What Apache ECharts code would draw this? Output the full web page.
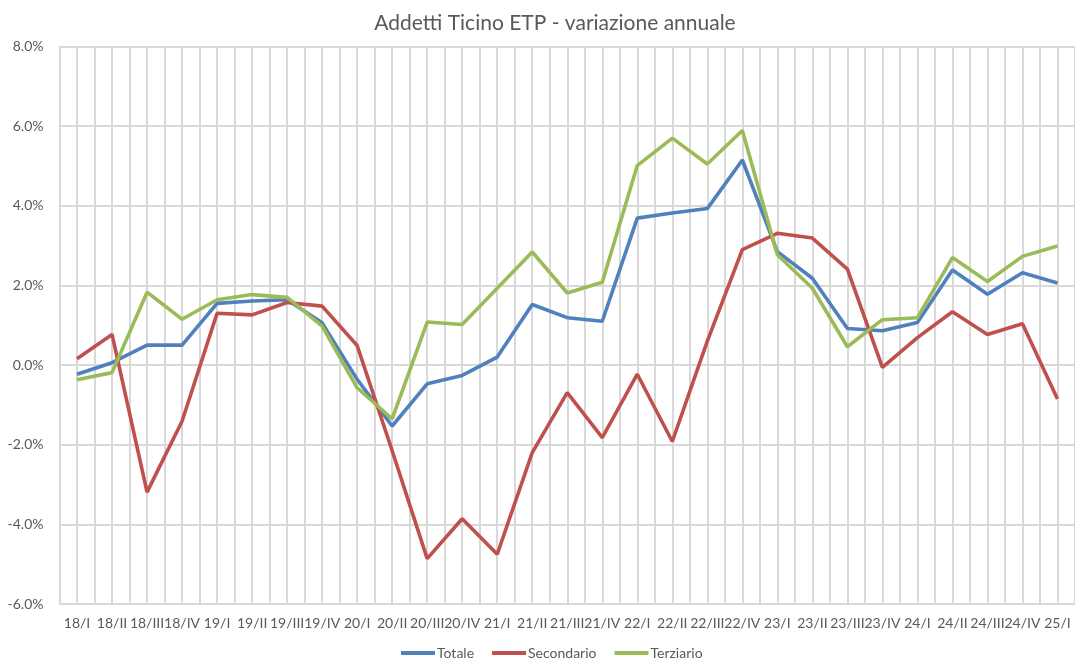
<!DOCTYPE html>
<html>
<head>
<meta charset="utf-8">
<title>Addetti Ticino ETP</title>
<script src="https://cdn.jsdelivr.net/npm/echarts@6/dist/echarts.min.js"></script>
<style>
  html, body { margin: 0; padding: 0; background: #fff; }
  #chart { width: 1075px; height: 661px; }
</style>
</head>
<body>
<div id="chart"></div>
<script>
  // trimestri
  var categories = ["18/I", "18/II", "18/III", "18/IV", "19/I", "19/II", "19/III", "19/IV",
    "20/I", "20/II", "20/III", "20/IV", "21/I", "21/II", "21/III", "21/IV",
    "22/I", "22/II", "22/III", "22/IV", "23/I", "23/II", "23/III", "23/IV",
    "24/I", "24/II", "24/III", "24/IV", "25/I"];

  // variazione annuale in %
  var totale = [-0.23, 0.06, 0.50, 0.50, 1.55, 1.61, 1.64, 1.06, -0.36, -1.53, -0.47, -0.26, 0.20, 1.52,
    1.19, 1.10, 3.69, 3.82, 3.93, 5.15, 2.85, 2.18, 0.92, 0.86, 1.07, 2.39, 1.78, 2.32, 2.06];
  var secondario = [0.16, 0.77, -3.19, -1.41, 1.30, 1.26, 1.57, 1.48, 0.49, -2.15, -4.86, -3.86, -4.75, -2.20,
    -0.69, -1.82, -0.23, -1.92, 0.60, 2.90, 3.31, 3.19, 2.41, -0.06, 0.69, 1.34, 0.77, 1.04, -0.85];
  var terziario = [-0.37, -0.19, 1.83, 1.15, 1.64, 1.77, 1.70, 0.98, -0.57, -1.35, 1.08, 1.02, 1.93, 2.84,
    1.81, 2.08, 5.01, 5.70, 5.05, 5.89, 2.77, 1.93, 0.46, 1.14, 1.19, 2.70, 2.10, 2.73, 2.99];

  var font = "Lato";
  var textColor = "#595959";
  var gridColor = "#d9d9d9";

  var chart = echarts.init(document.getElementById("chart"), null, {renderer: "canvas"});

  function line(name, data, color) {
    return {
      name: name,
      type: "line",
      data: data,
      showSymbol: false,
      symbol: "none",
      lineStyle: {color: color, width: 3.6},
      itemStyle: {color: color},
      animation: false
    };
  }

  chart.setOption({
    backgroundColor: "#fff",
    title: {
      text: "Addetti Ticino ETP - variazione annuale",
      left: 550,
      top: 8,
      textAlign: "center",
      textStyle: {fontFamily: font, fontSize: 21, fontWeight: "normal", color: textColor}
    },
    legend: {
      left: 401,
      top: 645,
      itemWidth: 34,
      itemHeight: 4,
      itemGap: 18,
      icon: "rect",
      padding: 0,
      textStyle: {fontFamily: font, fontSize: 14, lineHeight: 16, color: textColor, padding: [0, 0, 0, -3]},
      data: ["Totale", "Secondario", "Terziario"]
    },
    grid: {
      left: 59.5,
      top: 46.5,
      width: 1018,
      height: 557.5
    },
    xAxis: [
      {
        type: "category",
        data: categories,
        boundaryGap: true,
        axisLine: {show: true, lineStyle: {color: gridColor, width: 2}},
        axisTick: {show: false},
        splitLine: {show: false},
        axisLabel: {
          interval: 0,
          margin: 12,
          fontFamily: font,
          fontSize: 14,
          color: textColor
        }
      },
      {
        // mezze divisioni per le linee verticali
        type: "value",
        min: 0,
        max: 58,
        interval: 1,
        position: "bottom",
        axisLine: {show: false},
        axisTick: {show: false},
        axisLabel: {show: false},
        splitLine: {show: true, lineStyle: {color: gridColor, width: 2}}
      }
    ],
    yAxis: {
      type: "value",
      min: -6,
      max: 8,
      interval: 2,
      axisLine: {show: false},
      axisTick: {show: false},
      axisLabel: {
        margin: 16,
        fontFamily: font,
        fontSize: 14,
        color: textColor,
        formatter: function (v) { return v.toFixed(1) + "%"; }
      },
      splitLine: {show: true, lineStyle: {color: gridColor, width: 2}}
    },
    series: [
      line("Totale", totale, "#4f81bd"),
      line("Secondario", secondario, "#c0504d"),
      line("Terziario", terziario, "#9bbb59")
    ]
  });
</script>
</body>
</html>
